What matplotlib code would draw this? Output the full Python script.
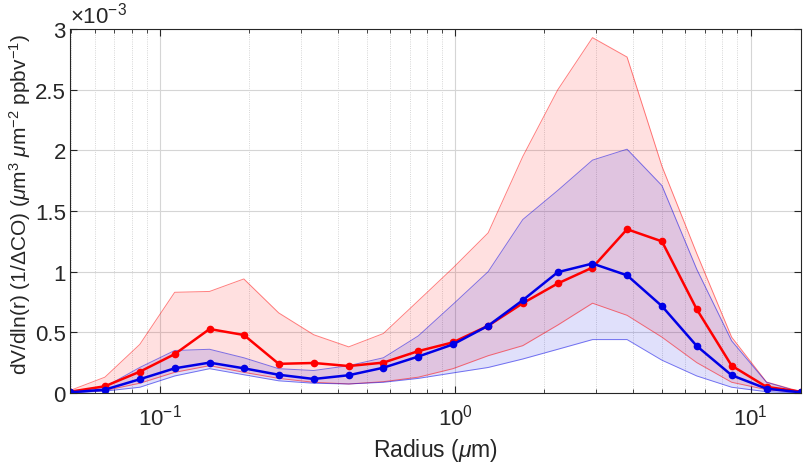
import numpy as np
import matplotlib.pyplot as plt
from matplotlib.ticker import LogLocator, FuncFormatter

plt.rcParams['font.family'] = ['Liberation Sans', 'DejaVu Sans']
plt.rcParams['mathtext.fontset'] = 'custom'
plt.rcParams['mathtext.rm'] = 'Liberation Sans'
plt.rcParams['mathtext.it'] = 'Liberation Sans:italic'

# radius bin centres (um)
radius = [0.0495, 0.065, 0.0853, 0.112, 0.147, 0.192, 0.252, 0.331, 0.435, 0.570, 0.748,
          0.98, 1.29, 1.69, 2.22, 2.91, 3.81, 5.00, 6.56, 8.61, 11.3, 14.8]

# values in units of 1e-3
red_mean = [0.01, 0.055, 0.175, 0.32, 0.527, 0.478, 0.24, 0.247, 0.222, 0.25, 0.345,
            0.417, 0.554, 0.74, 0.903, 1.034, 1.35, 1.25, 0.69, 0.225, 0.05, 0.01]
red_upper = [0.02, 0.13, 0.40, 0.83, 0.837, 0.94, 0.66, 0.48, 0.38, 0.49, 0.76,
             1.03, 1.32, 1.95, 2.50, 2.93, 2.77, 1.87, 1.15, 0.46, 0.09, 0.01]
red_lower = [0.005, 0.02, 0.08, 0.17, 0.225, 0.17, 0.12, 0.088, 0.074, 0.093, 0.13,
             0.2, 0.307, 0.39, 0.56, 0.74, 0.64, 0.46, 0.25, 0.088, 0.027, 0.005]

blue_mean = [0.005, 0.027, 0.113, 0.203, 0.25, 0.203, 0.15, 0.115, 0.146, 0.208, 0.30,
             0.40, 0.554, 0.765, 0.996, 1.067, 0.97, 0.716, 0.387, 0.146, 0.035, 0.005]
blue_upper = [0.01, 0.05, 0.21, 0.35, 0.36, 0.29, 0.20, 0.185, 0.225, 0.29, 0.47,
              0.73, 1.0, 1.43, 1.67, 1.92, 2.01, 1.71, 1.02, 0.43, 0.088, 0.005]
blue_lower = [0.0, 0.015, 0.047, 0.14, 0.20, 0.15, 0.10, 0.08, 0.074, 0.088, 0.12,
              0.165, 0.21, 0.28, 0.36, 0.44, 0.44, 0.27, 0.14, 0.047, 0.01, 0.0]

fig = plt.figure(figsize=(8.07, 4.64), dpi=100)
ax = fig.add_axes([0.0867, 0.151, 0.906, 0.784])

red = '#FF0000'
blue = '#0000E6'

ax.fill_between(radius, red_lower, red_upper, color=red, alpha=0.12, linewidth=0)
ax.plot(radius, red_upper, color=red, alpha=0.5, lw=0.7)
ax.plot(radius, red_lower, color=red, alpha=0.5, lw=0.7)
ax.fill_between(radius, blue_lower, blue_upper, color=blue, alpha=0.12, linewidth=0)
ax.plot(radius, blue_upper, color=blue, alpha=0.5, lw=0.7)
ax.plot(radius, blue_lower, color=blue, alpha=0.5, lw=0.7)

ax.plot(radius, red_mean, color=red, lw=1.8, marker='o', ms=4.5)
ax.plot(radius, blue_mean, color=blue, lw=1.8, marker='o', ms=4.5)

ax.set_xscale('log')
ax.set_xlim(radius[0], radius[-1])
ax.set_ylim(0, 3)
ax.set_yticks([0, 0.5, 1, 1.5, 2, 2.5, 3])
ax.yaxis.set_major_formatter(FuncFormatter(lambda v, p: f'{v:g}'))
ax.xaxis.set_major_locator(LogLocator(base=10))
ax.xaxis.set_minor_locator(LogLocator(base=10, subs=np.arange(2, 10)))

ax.grid(True, which='major', axis='y', color='#D5D5D5', lw=0.8)
ax.grid(True, which='major', axis='x', color='#D5D5D5', lw=0.8)
ax.grid(True, which='minor', axis='x', color='#C8C8C8', lw=0.6, ls=':')
ax.set_axisbelow(True)

ax.tick_params(which='both', direction='in', top=True, right=True, labelsize=16, colors='#262626')
ax.tick_params(which='major', length=5)
ax.tick_params(which='minor', length=3)
ax.tick_params(axis='x', pad=8)
ax.tick_params(axis='y', pad=3)
for s in ax.spines.values():
    s.set_color('#262626')
    s.set_linewidth(0.8)

ax.text(0.0, 1.005, r'$\times$10$^{-3}$', transform=ax.transAxes, fontsize=16,
        ha='left', va='bottom', color='#262626')

ax.set_xlabel(r'Radius ($\mu$m)', fontsize=16.5, color='#262626', labelpad=4)
ax.set_ylabel(r'dV/dln(r) (1/$\Delta$CO) ($\mu$m$^3$ $\mu$m$^{-2}$ ppbv$^{-1}$)',
              fontsize=15, color='#262626')
ax.yaxis.set_label_coords(-0.05, 0.52)

fig.savefig('out.png', dpi=100)
